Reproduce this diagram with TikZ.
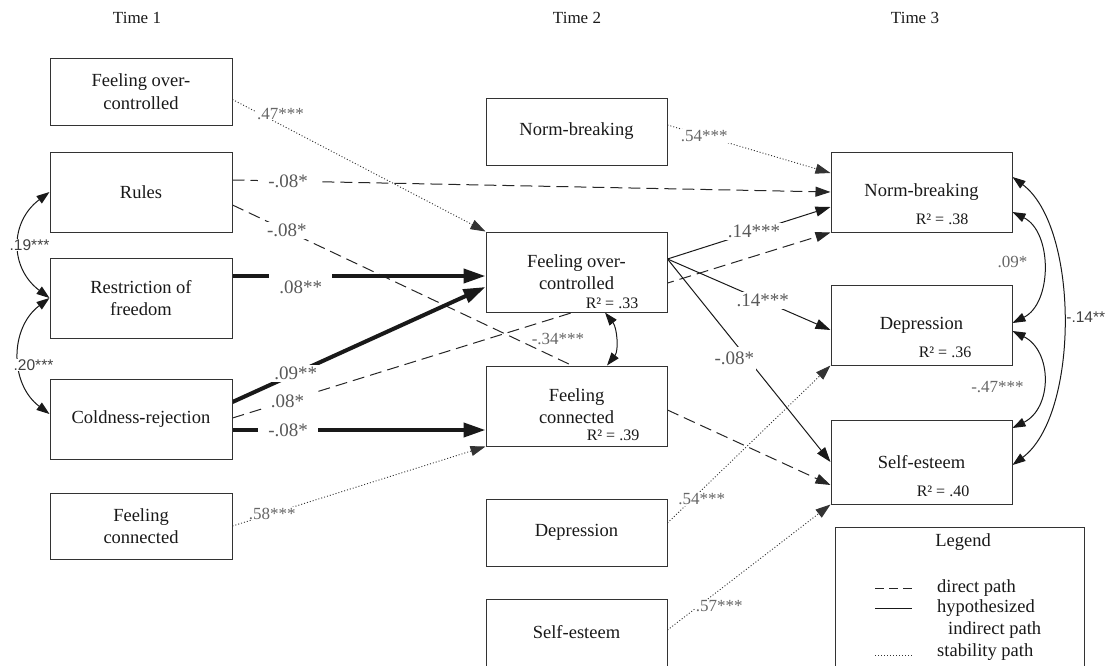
\documentclass[tikz,border=0pt]{standalone}
\usepackage{fontspec}
\setmainfont{Liberation Serif}
\newfontfamily\sansf{Liberation Sans}
\usetikzlibrary{arrows.meta}
\pgfdeclarelayer{bg}
\pgfsetlayers{bg,main}
\begin{document}
\begin{tikzpicture}[x=1pt,y=-1pt,
  box/.style={draw=black!80, line width=1pt, fill=white, align=center, minimum width=181pt, minimum height=80pt, inner sep=0pt, font=\fontsize{18.5}{22.5}\selectfont, text=black!90},
  rsq/.style={font=\fontsize{16}{18}\selectfont, inner sep=0pt, text=black!90},
  lab/.style={font=\fontsize{19}{20}\selectfont, text=black!65, fill=white, inner xsep=10pt, inner ysep=2pt},
  slab/.style={font=\fontsize{17}{20}\selectfont, text=black!60, fill=white, inner sep=1pt},
  slabnf/.style={font=\fontsize{17}{20}\selectfont, text=black!60, inner sep=1pt},
  sanslab/.style={font=\sansf\fontsize{15.5}{17}\selectfont, text=black!75, fill=white, inner sep=1pt},
  timelab/.style={font=\fontsize{17}{20}\selectfont, text=black!90},
  legtext/.style={font=\fontsize{18.5}{22}\selectfont, text=black!90, anchor=west, inner sep=0pt},
  tip/.style={-{Triangle[length=15pt,width=10pt]}},
  bigtip/.style={-{Triangle[length=22pt,width=14pt]}},
  both/.style={{Triangle[length=13pt,width=9pt]}-{Triangle[length=13pt,width=9pt]}},
  direct/.style={line width=1pt, dash pattern=on 12pt off 6pt, draw=black!85},
  hyp/.style={line width=1pt, draw=black!90},
  thickhyp/.style={line width=4pt, draw=black!90},
  stab/.style={line width=0.9pt, dash pattern=on 1pt off 2pt, draw=black!80},
]
\useasboundingbox (0,0) rectangle (1109,665);

% time labels
\node[timelab] (t1) at (137,18) {Time 1};
\node[timelab] (t2) at (577,18) {Time 2};
\node[timelab] (t3) at (915,18) {Time 3};

% Time 1
\node[box, minimum width=182pt, minimum height=67pt] (fo1) at (141,91.5) {Feeling over-\\controlled};
\node[box, minimum width=182pt] (rules) at (141,192) {Rules};
\node[box, minimum width=182pt] (restr) at (141,298) {Restriction of\\freedom};
\node[box, minimum width=182pt] (cold) at (141,419) {Coldness-rejection};
\node[box, minimum width=182pt, minimum height=66pt] (fc1) at (141,526) {Feeling\\connected};

% Time 2
\node[box, minimum height=67pt] (nb2) at (576.5,131.5) {Norm-breaking};
\node[box] (fo2) at (576.5,272) {Feeling over-\\controlled};
\node[box] (fc2) at (576.5,406) {Feeling\\connected};
\node[box, minimum height=67pt] (dep2) at (576.5,532.5) {Depression};
\node[box, minimum height=67pt] (se2) at (576.5,632.5) {Self-esteem};

% Time 3
\node[box] (nb3) at (921.5,192) {Norm-breaking};
\node[box] (dep3) at (921.5,325) {Depression};
\node[box, minimum height=84pt] (se3) at (921.5,462) {Self-esteem};

% R squared
\node[rsq] (rfo2) at ([xshift=35.5pt,yshift=9pt]fo2.south) {R² = .33};
\node[rsq] (rfc2) at ([xshift=36.5pt,yshift=11pt]fc2.south) {R² = .39};
\node[rsq] (rnb3) at ([xshift=20.5pt,yshift=13pt]nb3.south) {R² = .38};
\node[rsq] (rdep3) at ([xshift=23.5pt,yshift=13pt]dep3.south) {R² = .36};
\node[rsq] (rse3) at ([xshift=21.5pt,yshift=13pt]se3.south) {R² = .40};

\begin{pgfonlayer}{bg}
% stability paths
\draw[stab, tip] ([yshift=-8pt]fo1.east) -- (fo2.north west) node[slab, pos=0.19, yshift=11pt] {.47***};
\draw[stab, tip] (fc1.east) -- (fc2.south west) node[slab, pos=0.157] {.58***};
\draw[stab, tip] ([yshift=6.5pt]nb2.east) -- ([yshift=19pt]nb3.west) node[slab, pos=0.226] {.54***};
\draw[stab, tip] ([yshift=9.5pt]dep2.east) -- (dep3.south west) node[slab, pos=0.21, yshift=-9pt] {.54***};
\draw[stab, tip] ([yshift=2.5pt]se2.east) -- (se3.south west) node[slab, pos=0.317, yshift=-16pt] {.57***};

% direct paths
\draw[direct, tip] ([yshift=12pt]rules.east) -- (nb3.west) node[lab, pos=0.093] {-.08*};
\draw[direct] ([yshift=-13pt]rules.east) -- ([xshift=-4.5pt]fc2.north) node[lab, pos=0.16] {-.08*};
\draw[direct, tip] ([yshift=1pt]cold.east) -- (nb3.south west) node[lab, pos=0.092] {.08*};
\draw[direct, tip] ([yshift=-4pt]fc2.east) -- ([yshift=-23pt]se3.west);

% hypothesized paths (thick)
\draw[thickhyp, bigtip] ([yshift=22pt]restr.east) -- ([yshift=-4pt]fo2.west) node[lab, pos=0.27, yshift=-11pt, inner ysep=7pt] {.08**};
\draw[thickhyp, bigtip] ([yshift=17pt]cold.east) -- ([yshift=-15pt]fo2.west) node[lab, pos=0.25] {.09**};
\draw[thickhyp, bigtip] ([yshift=-11pt]cold.east) -- ([yshift=-24pt]fc2.west) node[lab, pos=0.22] {-.08*};

% hypothesized paths (thin)
\draw[hyp, tip] ([yshift=13pt]fo2.east) -- ([yshift=-15pt]nb3.west) node[lab, pos=0.53, inner xsep=12pt] {.14***};
\draw[hyp, tip] ([yshift=13pt]fo2.east) -- ([yshift=-5pt]dep3.west) node[lab, pos=0.585, inner xsep=12pt] {.14***};
\draw[hyp, tip] ([yshift=13pt]fo2.east) -- (se3.west) node[lab, pos=0.49, xshift=-13pt, inner xsep=2pt, inner ysep=5pt] {-.08*};

% correlations
\draw[hyp, both] (rules.west) .. controls +(-40,30) and +(-40,-30) .. (restr.west) node[sanslab, pos=0.5, xshift=10pt] {.19***};
\draw[hyp, both] (restr.west) .. controls +(-40,30) and +(-40,-30) .. ([yshift=5pt]cold.west) node[sanslab, pos=0.5, xshift=14pt, yshift=-9pt] {.20***};
\draw[hyp, both] ([xshift=28.5pt]fo2.south) .. controls +(12,15) and +(12,-15) .. ([xshift=30.5pt]fc2.north) node[slabnf, pos=0.5, xshift=-57pt] {-.34***};
\draw[hyp, both] ([yshift=-20pt]nb3.east) .. controls +(40,20) and +(40,-20) .. ([yshift=2pt]dep3.east) node[slabnf, pos=0.5, xshift=-30pt, yshift=5.5pt] {.09*};
\draw[hyp, both] ([yshift=-6pt]dep3.east) .. controls +(40,20) and +(40,-20) .. ([yshift=34pt]se3.east) node[slabnf, pos=0.5, xshift=-45pt, yshift=-7.5pt] {-.47***};
\draw[hyp, both] ([yshift=15pt]nb3.east) .. controls +(67,50) and +(67,-50) .. ([yshift=-3pt]se3.east) node[sanslab, pos=0.5, xshift=23pt, yshift=4pt, fill=none] {-.14**};
\end{pgfonlayer}

% legend
\node[draw=black!80, line width=1pt, fill=white, minimum width=249pt, minimum height=150pt, inner sep=0pt] (leg) at (959.5,602) {};
\node[font=\fontsize{18.5}{22}\selectfont, text=black!90] (legt) at (963,542) {Legend};
\draw[line width=1pt, dash pattern=on 9pt off 5pt, draw=black!85] (875,588) -- (912,588);
\draw[hyp] (875,608) -- (912,608);
\draw[stab] (875,655) -- (912,655);
\node[legtext] (l1) at (937,588) {direct path};
\node[legtext] (l2) at (937,608) {hypothesized};
\node[legtext] (l3) at (948,630) {indirect path};
\node[legtext] (l4) at (937,652) {stability path};
\end{tikzpicture}
\end{document}
